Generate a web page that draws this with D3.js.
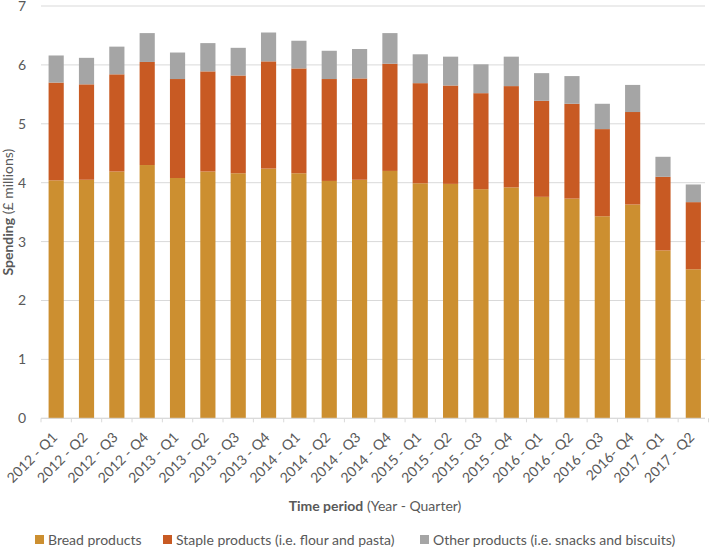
<!DOCTYPE html>
<html><head><meta charset="utf-8">
<script src="https://cdn.jsdelivr.net/npm/d3@7"></script>
<style>body{margin:0;background:#fff}svg{display:block}text{font-family:Lato,"Open Sans",sans-serif}</style>
</head><body><svg id="c" width="709" height="548"></svg>
<script>
const periods = ["2012 - Q1","2012 - Q2","2012 - Q3","2012 - Q4","2013 - Q1","2013 - Q2","2013 - Q3","2013 - Q4","2014 - Q1","2014 - Q2","2014 - Q3","2014 - Q4","2015 - Q1","2015 - Q2","2015 - Q3","2015 - Q4","2016 - Q1","2016 - Q2","2016 - Q3","2016- Q4","2017 - Q1","2017 - Q2"];
const bread  = [4.04,4.05,4.19,4.30,4.08,4.19,4.16,4.24,4.16,4.03,4.05,4.20,3.99,3.98,3.89,3.92,3.76,3.73,3.43,3.63,2.85,2.53];
const staple = [1.66,1.62,1.65,1.75,1.68,1.70,1.66,1.82,1.78,1.73,1.72,1.82,1.70,1.67,1.63,1.72,1.63,1.61,1.48,1.57,1.25,1.14];
const other  = [0.46,0.45,0.47,0.49,0.45,0.48,0.47,0.49,0.47,0.48,0.50,0.52,0.49,0.49,0.49,0.50,0.47,0.47,0.43,0.46,0.34,0.30];
const seriesNames = ["Bread products","Staple products (i.e. flour and pasta)","Other products (i.e. snacks and biscuits)"];
const seriesColors = ["#CC8F30","#C85A23","#A5A5A5"];
const yTicks = [0,1,2,3,4,5,6,7];

const svg = d3.select("#c");
const m = {l:41, r:0.5, t:5, b:130};
const W = 709, H = 548;
const x = d3.scaleBand().domain(periods).range([m.l, W - m.r]).paddingInner(0.5).paddingOuter(0.25);
const y = d3.scaleLinear().domain([0,7]).range([418.3, 6]);

// gridlines
svg.append("g").selectAll("line").data(yTicks).join("line")
  .attr("x1", m.l).attr("x2", W - 4).attr("y1", d=>y(d)).attr("y2", d=>y(d))
  .attr("stroke", "#D9D9D9").attr("stroke-width", 1);

// y labels
const yAxis = svg.append("g").attr("transform", `translate(${m.l},0)`)
  .call(d3.axisLeft(y).tickValues(yTicks).tickFormat(d3.format("d")).tickSize(0).tickPadding(15));
yAxis.select(".domain").remove();
yAxis.selectAll("text").attr("fill","#595959").style("font-size","14px").style("font-family","Lato, sans-serif");

// stacked bars
const rows = periods.map((p,i)=>({p, bread:bread[i], staple:staple[i], other:other[i]}));
const stack = d3.stack().keys(["bread","staple","other"])(rows);
svg.append("g").selectAll("g").data(stack).join("g")
  .attr("fill", (d,i)=>seriesColors[i])
  .selectAll("rect").data(d=>d).join("rect")
  .attr("x", d=>x(d.data.p)).attr("width", x.bandwidth())
  .attr("y", d=>y(d[1])).attr("height", d=>y(d[0]) - y(d[1]));

// x axis line + ticks at band boundaries
svg.append("line").attr("x1", m.l).attr("x2", W - 4).attr("y1", y(0)).attr("y2", y(0)).attr("stroke","#D9D9D9");
const step = x.step();
const bounds = d3.range(periods.length + 1).map(i => x(periods[0]) - step*0.25 + i*step);
svg.append("g").selectAll("line").data(bounds).join("line")
  .attr("x1", d=>d).attr("x2", d=>d).attr("y1", y(0)).attr("y2", y(0)+4).attr("stroke","#D9D9D9");

// x labels
svg.append("g").selectAll("text").data(periods).join("text")
  .attr("transform", d=>`translate(${x(d)+x.bandwidth()/2+2},${y(0)+20}) rotate(-45)`)
  .attr("text-anchor","end").attr("fill","#595959").style("font-size","14px").text(d=>d);

// axis titles
const xt = svg.append("text").attr("x", (m.l + W)/2).attr("y", 511).attr("text-anchor","middle")
  .attr("fill","#595959").style("font-size","14px");
xt.append("tspan").attr("font-weight","bold").text("Time period");
xt.append("tspan").text(" (Year - Quarter)");

const yt = svg.append("text").attr("transform", `translate(13,${(y(0)+y(7))/2}) rotate(-90)`).attr("text-anchor","middle")
  .attr("fill","#595959").style("font-size","14px");
yt.append("tspan").attr("font-weight","bold").text("Spending");
yt.append("tspan").text(" (£ millions)");

// legend
const legX = [35, 163, 420];
const lg = svg.append("g").selectAll("g").data(seriesNames).join("g")
  .attr("transform", (d,i)=>`translate(${legX[i]},540)`);
lg.append("rect").attr("x",0).attr("y",-5).attr("width",9).attr("height",9).attr("fill",(d,i)=>seriesColors[i]);
lg.append("text").attr("x",13).attr("y",5).attr("fill","#595959").style("font-size","14px").text(d=>d);
</script></body></html>
